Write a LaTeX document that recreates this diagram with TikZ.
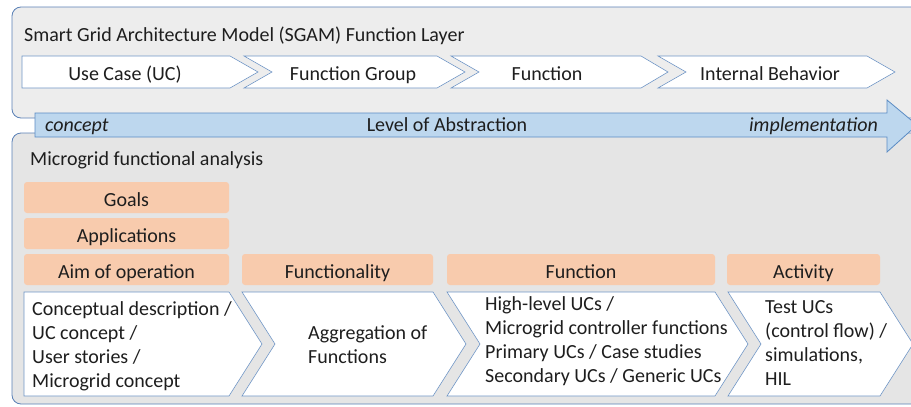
\documentclass[tikz,border=0pt]{standalone}
\usepackage{fontspec}
\setmainfont{Carlito}
\definecolor{frameblue}{HTML}{5A80B6}
\definecolor{chevblue}{HTML}{7096C6}
\definecolor{topgray}{HTML}{EDEDED}
\definecolor{botgray}{HTML}{E5E5E5}
\definecolor{arrowfill}{HTML}{BDD7EE}
\definecolor{arrowline}{HTML}{5B8CC4}
\definecolor{tagorange}{HTML}{F8CBAD}
\definecolor{inkgray}{HTML}{1E1E1E}
\begin{document}
\begin{tikzpicture}[x=1pt,y=-1pt,
  every node/.style={text=inkgray,font=\fontsize{20}{24}\selectfont},
  panel/.style={draw=frameblue,line width=0.8pt,rounded corners=9pt},
  chev/.style={draw=chevblue,fill=white,line width=0.6pt},
  tag/.style={fill=tagorange,rounded corners=3pt,minimum height=31pt,inner sep=0pt,
    text height=17pt,text depth=0pt},
  lbl/.style={anchor=base,inner sep=0pt},
  body/.style={align=left,anchor=west,inner sep=0pt}]
  \useasboundingbox (0,0) rectangle (911,407);
  \clip (0,0) rectangle (911,407);
  % SGAM function layer
  \draw[panel,fill=topgray] (12,7) rectangle (930,118);
  \node[lbl,anchor=base west] (sgam) at (24,41) {Smart Grid Architecture Model (SGAM) Function Layer};
  \draw[chev] (22,56) -- (230,56) -- (258,72) -- (230,88) -- (22,88) -- cycle;
  \draw[chev] (244,56) -- (437,56) -- (465,72) -- (437,88) -- (244,88) -- (272,72) -- cycle;
  \draw[chev] (451,56) -- (641,56) -- (668,72) -- (641,88) -- (451,88) -- (479,72) -- cycle;
  \draw[chev] (658,56) -- (867,56) -- (895,72) -- (867,88) -- (658,88) -- (686,72) -- cycle;
  \node[lbl] (uc) at (125,80) {Use Case (UC)};
  \node[lbl] (fgroup) at (353,80) {Function Group};
  \node[lbl] (func) at (547,80) {Function};
  \node[lbl] (behav) at (770,80) {Internal Behavior};
  % microgrid functional analysis
  \draw[panel,fill=botgray] (12,133) rectangle (930,404);
  \node[lbl,anchor=base west] (mga) at (30,165) {Microgrid functional analysis};
  % level of abstraction
  \draw[draw=arrowline,fill=arrowfill,line width=0.8pt]
    (35,113) -- (887,113) -- (887,100) -- (917,125) -- (887,152) -- (887,137) -- (35,137) -- cycle;
  \node[lbl,anchor=base west,font=\fontsize{20}{24}\selectfont\itshape] (concept) at (45,131) {concept};
  \node[lbl] (abstr) at (447,131) {Level of Abstraction};
  \node[lbl,anchor=base east,font=\fontsize{20}{24}\selectfont\itshape] (impl) at (878,131) {implementation};
  % orange headers
  \node[tag,minimum width=205pt] (goals) at (126.5,197.5) {Goals};
  \node[tag,minimum width=205pt] (apps) at (126.5,233.5) {Applications};
  \node[tag,minimum width=205pt] (aim) at (126.5,269.5) {Aim of operation};
  \node[tag,minimum width=191pt] (functy) at (337.5,269.5) {Functionality};
  \node[tag,minimum width=268pt] (fnhead) at (581,269.5) {Function};
  \node[tag,minimum width=153pt] (activ) at (803.5,269.5) {Activity};
  % chevrons with descriptions
  \draw[chev] (24,292) -- (229,292) -- (262,344) -- (229,396) -- (24,396) -- cycle;
  \draw[chev] (242,292) -- (433,292) -- (466,344) -- (433,396) -- (242,396) -- (275,344) -- cycle;
  \draw[chev] (447,292) -- (715,292) -- (748,344) -- (715,396) -- (447,396) -- (480,344) -- cycle;
  \draw[chev] (728,292) -- (880,292) -- (913,344) -- (880,396) -- (728,396) -- (761,344) -- cycle;
  \node[body] (concdesc) at (32,346) {Conceptual description /\\UC concept /\\User stories /\\Microgrid concept};
  \node[body] (aggr) at (308,345) {Aggregation of\\Functions};
  \node[body] (ucs) at (485,341.5) {High-level UCs /\\Microgrid controller functions\\Primary UCs / Case studies\\Secondary UCs / Generic UCs};
  \node[body] (tests) at (765,343.5) {Test UCs\\(control flow) /\\simulations,\\HIL};
\end{tikzpicture}
\end{document}
